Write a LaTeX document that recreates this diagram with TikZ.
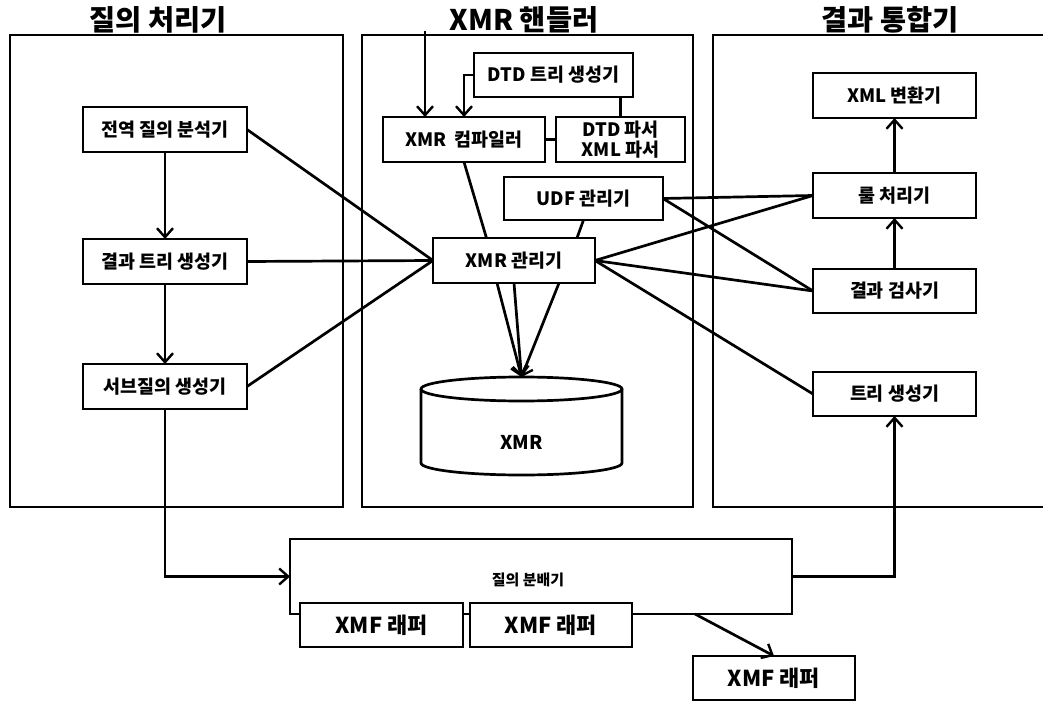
\documentclass[tikz,border=0pt]{standalone}
\usepackage{fontspec}
\setmainfont{Noto Sans CJK KR}
\usetikzlibrary{arrows.meta,calc}
\begin{document}
\begin{tikzpicture}[x=1bp,y=-1bp,
  line width=2.7bp,
  >={Straight Barb[length=9bp,width=16bp,line width=2.4bp]},
  title/.style={font=\bfseries\fontsize{28.5}{31}\selectfont, inner sep=0pt},
  frame/.style={draw, inner sep=0pt, outer sep=0pt},
  box/.style={draw, fill=white, inner sep=0pt, outer sep=0pt, align=center,
    minimum width=163bp, minimum height=45bp,
    font=\bfseries\fontsize{18.5}{20}\selectfont},
  wrap/.style={box, font=\bfseries\fontsize{22}{24}\selectfont},
  plain/.style={inner sep=0pt, outer sep=0pt}]

\useasboundingbox (0,0) rectangle (1043,701);

% group titles
\node[title] (t1) at (158,20) {질의 처리기};
\node[title] (t2) at (524,20) {XMR 핸들러};
\node[title] (t3) at (890,20) {결과 통합기};

% group frames
\node[frame, minimum width=333bp, minimum height=472bp] (qp) at (176.5,271) {};
\node[frame, minimum width=331bp, minimum height=472bp] (xh) at (527.5,271) {};
\coordinate (riTR) at (1045,35);
\coordinate (riTL) at (713,35);
\coordinate (riBL) at (713,507);
\coordinate (riBR) at (1045,507);
\draw (riTR) -- (riTL) -- (riBL) -- (riBR);

% query processor
\node[box, minimum width=164bp] (e1) at (165,129.5) {전역 질의 분석기};
\node[box, minimum width=164bp] (e2) at (165,261.5) {결과 트리 생성기};
\node[box, minimum width=164bp] (e3) at (165,386.5) {서브질의 생성기};

% XMR handler
\node[box, minimum width=159bp, minimum height=44bp] (dtdtree) at (553.5,75) {DTD 트리 생성기};
\node[box, minimum width=162bp] (comp) at (464,139.5) {XMR\ \ 컴파일러};
\node[box, minimum width=129bp] (parser) at (620.5,139.5) {DTD 파서\\XML 파서};
\node[box, minimum width=159bp, minimum height=43bp] (udf) at (583.5,198.5) {UDF 관리기};
\node[box, minimum width=162bp] (mgr) at (514,260.5) {XMR 관리기};
\node[plain, minimum width=201bp, minimum height=98bp] (db) at (521.5,426) {};
\draw ($(db.north west)+(0,12)$) -- ($(db.south west)+(0,-12)$)
  arc[start angle=180, end angle=0, x radius=100.5, y radius=12]
  -- ($(db.north east)+(0,12)$);
\draw ($(db.north)+(0,12)$) ellipse [x radius=100.5, y radius=12];
\node[plain, font=\bfseries\fontsize{19}{21}\selectfont] (dbtext) at ($(db.center)+(0,16)$) {XMR};

% result integrator
\node[box] (xmlconv) at (894.5,95.5) {XML 변환기};
\node[box] (rule) at (894.5,195.5) {룰 처리기};
\node[box, minimum height=44bp] (check) at (894.5,291) {결과 검사기};
\node[box, minimum height=44bp] (tree) at (894.5,394) {트리 생성기};

% query distributor and wrappers
\node[draw, plain, minimum width=502bp, minimum height=75bp] (dist) at (541,576.5) {};
\node[plain, font=\bfseries\fontsize{15}{17}\selectfont] (distlabel) at (528,580) {질의 분배기};
\node[wrap, minimum height=44bp] (w1) at (381.5,625) {XMF 래퍼};
\node[wrap, minimum width=162bp, minimum height=44bp] (w2) at (551,625) {XMF 래퍼};
\node[wrap, minimum width=162bp, minimum height=44bp] (w3) at (774,678) {XMF 래퍼};

% connectors: query processor
\draw[->] (e1.south) -- (e2.north);
\draw[->] (e2.south) -- (e3.north);
\draw (e1.east) -- (mgr.west);
\draw (e2.east) -- (mgr.west);
\draw (e3.east) -- (mgr.west);
\draw[->] (e3.south) |- (dist.west);

% connectors: XMR handler
\coordinate (handin) at (425,31);
\draw[->] (handin) -- (handin |- comp.north);
\draw[->] (dtdtree.west) -| (comp.north);
\draw (dtdtree.south -| parser.north) -- (parser.north);
\draw (comp.east) -- (parser.west);
\draw (comp.south) -- ($(mgr.north west)!0.33!(mgr.north east)$);
\draw (udf.south) -- ($(mgr.north east)+(-18,0)$);
\draw[->] ($(mgr.south west)+(64,0)$) -- (db.north);
\draw[->] (mgr.south) -- (db.north);
\draw[->] ($(mgr.south west)+(126,0)$) -- (db.north);

% connectors: to the result integrator
\draw (mgr.east) -- (rule.west);
\draw (mgr.east) -- (check.west);
\draw (mgr.east) -- (tree.west);
\draw (udf.east) -- (rule.west);
\draw (udf.east) -- (check.west);
\draw[->] (check.north) -- (rule.south);
\draw[->] (rule.north) -- (xmlconv.south);
\draw[->] (dist.east) -| (tree.south);
\draw[->] ($(dist.south west)+(405,0)$) -- (w3.north);
\end{tikzpicture}
\end{document}
